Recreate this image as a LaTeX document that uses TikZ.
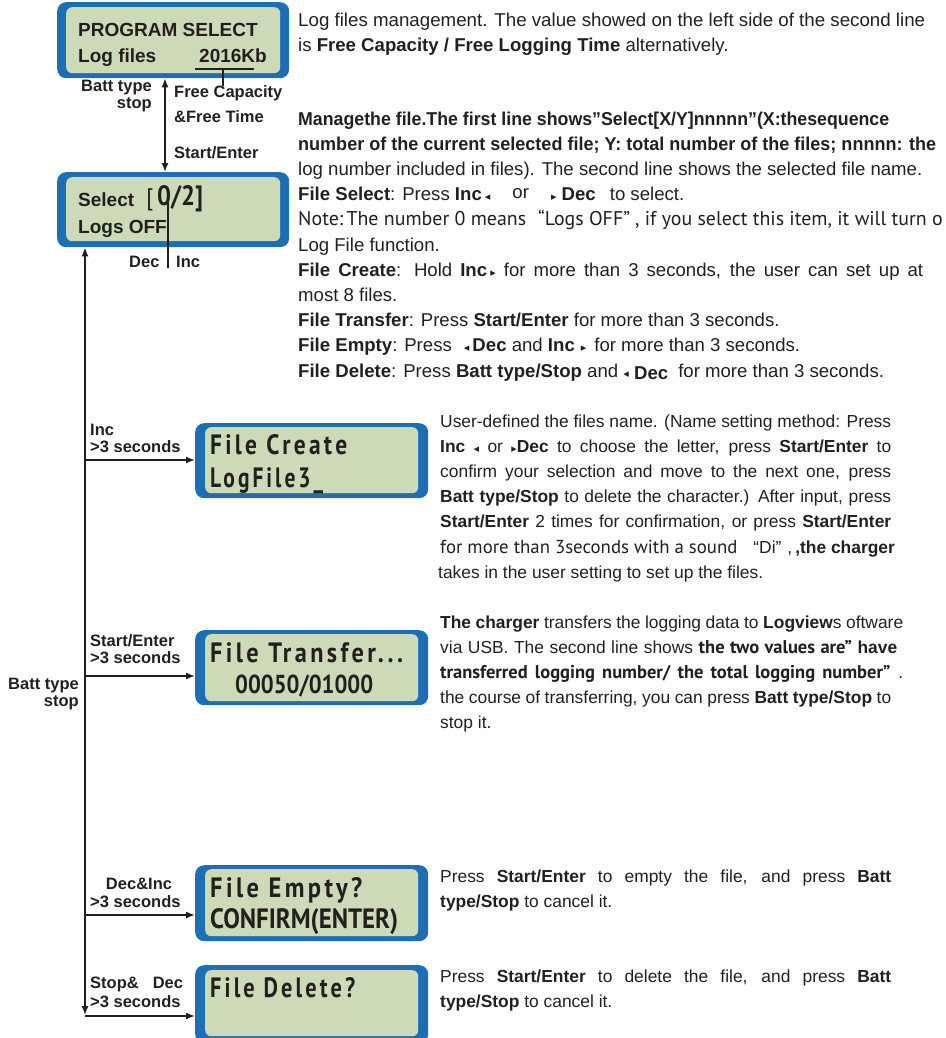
\documentclass[tikz,border=0pt]{standalone}
\usepackage{fontspec}
\usepackage{graphicx}
\setmainfont{Liberation Sans}
\newfontfamily\ptsans{PT Sans}
\newfontfamily\symf{DejaVu Sans}
\newfontfamily\lcdf[LetterSpace=14]{PT Sans}
\newfontfamily\lcdg{PT Sans}
\usetikzlibrary{arrows.meta}
\definecolor{lcdblue}{RGB}{30,110,180}
\definecolor{lcdgreen}{RGB}{205,218,183}
\definecolor{ink}{RGB}{35,31,32}
\newcommand{\tril}{{\symf\fontsize{11}{11}\selectfont ◂}}
\newcommand{\trir}{{\symf\fontsize{11}{11}\selectfont ▸}}
\newcommand{\fitw}[2]{\resizebox{#1}{\height}{#2}}
\newcommand{\just}[2]{\makebox[#1][s]{#2}}
\tikzset{
 lcdout/.style={fill=lcdblue, rounded corners=9pt, inner sep=0pt, anchor=north west, draw=none},
 lcdin/.style={fill=lcdgreen, rounded corners=6pt, inner sep=0pt, anchor=north west, draw=none},
 lcdtxt/.style={anchor=base west, inner sep=0pt, text=ink, font=\lcdf\bfseries\fontsize{28}{28}\selectfont},
 boxtxt/.style={anchor=base west, inner sep=0pt, text=ink, font=\bfseries\fontsize{19}{19}\selectfont},
 lab/.style={inner sep=0pt, text=ink, font=\bfseries\fontsize{16.5}{16.5}\selectfont},
 paraA/.style={anchor=base west, inner sep=0pt, text=ink, font=\fontsize{18.6}{25}\selectfont},
 paraB/.style={anchor=base west, inner sep=0pt, text=ink, font=\fontsize{17.4}{25}\selectfont},
 conn/.style={line width=1.4pt, draw=ink, -{Latex[length=9pt,width=7pt]}},
 dconn/.style={line width=1.4pt, draw=ink, {Latex[length=9pt,width=7pt]}-{Latex[length=9pt,width=7pt]}},
 plain/.style={line width=1.5pt, draw=ink},
}
\begin{document}
\begin{tikzpicture}[x=1pt,y=-1pt]
\useasboundingbox (0,0) rectangle (945,1038);
\clip (0,0) rectangle (945,1038);
% ---------- top LCD: PROGRAM SELECT ----------
\node[lcdout, minimum width=232pt, minimum height=76pt] (b1) at (57,2) {};
\node[lcdin, minimum width=214pt, minimum height=66pt] (b1i) at (66,7) {};
\node[boxtxt] (ps) at (78,37) {PROGRAM SELECT};
\node[boxtxt] (lf) at (78,63) {Log files};
\node[boxtxt] (kb) at (199,63) {2016Kb};
% ---------- second LCD: Select ----------
\node[lcdout, minimum width=232pt, minimum height=75pt] (b2) at (57,172) {};
\node[lcdin, minimum width=214pt, minimum height=64pt] (b2i) at (66,177) {};
\node[boxtxt] (sel) at (78,206) {Select};
\node[lcdtxt, font=\lcdg\fontsize{24}{24}\selectfont] (brk) at (146,205) {[};
\node[lcdtxt] (num) at (157,205) {\resizebox{46pt}{\height}{\lcdg\bfseries 0/2]}};
\node[boxtxt] (loff) at (78,233) {Logs OFF};
% labels between top boxes
\node[lab, anchor=base east] (bt1) at (152,92) {Batt type};
\node[lab, anchor=base east] (st1) at (152,109) {stop};
\node[lab, anchor=base west] (fcap) at (174,98) {Free Capacity};
\node[lab, anchor=base west] (ftime) at (174,123) {\&Free Time};
\node[lab, anchor=base west] (se1) at (174,158) {Start/Enter};
\coordinate (u1) at (195,69);
\coordinate (u2) at (254,69);
\coordinate (um) at (223,69);
\draw[plain] (u1) -- (u2);
\draw[plain] (um) -- (um |- fcap.north);
\coordinate (ax) at (165,0);
\draw[dconn] (b1.south -| ax) -- (b2.north -| ax);
% Dec / Inc pointer
\node[lab, anchor=base west] (dec1) at (129,267) {Dec};
\node[lab, anchor=base west] (inc1) at (176,267) {Inc};
\coordinate (vt) at (168,196);
\coordinate (vb) at (168,268);
\draw[plain] (vt) -- (vb);
% ---------- lower LCDs ----------
\node[lcdout, minimum width=233pt, minimum height=75pt] (fc) at (195,423) {};
\node[lcdin, minimum width=213pt, minimum height=66pt] (fci) at (205,427) {};
\node[lcdtxt] (fct1) at (210,454) {\resizebox{137pt}{\height}{File Create}};
\node[lcdtxt] (fct2) at (210,487) {\resizebox{113pt}{\height}{LogFile3\_}};

\node[lcdout, minimum width=233pt, minimum height=75pt] (ft) at (195,630) {};
\node[lcdin, minimum width=213pt, minimum height=67pt] (fti) at (205,634) {};
\node[lcdtxt] (ftt1) at (210,662) {\resizebox{193pt}{\height}{File Transfer...}};
\node[lcdtxt, font=\lcdg\bfseries\fontsize{26}{26}\selectfont] (ftt2) at (235,693) {\resizebox{138pt}{\height}{00050/01000}};

\node[lcdout, minimum width=233pt, minimum height=76pt] (fe) at (195,865) {};
\node[lcdin, minimum width=213pt, minimum height=67pt] (fei) at (205,869) {};
\node[lcdtxt] (fet1) at (210,897) {\resizebox{152pt}{\height}{File Empty?}};
\node[lcdtxt, font=\lcdg\bfseries\fontsize{28}{28}\selectfont] (fet2) at (210,928) {\resizebox{188pt}{\height}{CONFIRM(ENTER)}};

\node[lcdout, minimum width=233pt, minimum height=78pt] (fd) at (195,965) {};
\node[lcdin, minimum width=213pt, minimum height=66pt] (fdi) at (205,970) {};
\node[lcdtxt] (fdt1) at (210,997) {\resizebox{145pt}{\height}{File Delete?}};
% ---------- left trunk ----------
\coordinate (lx) at (85,0);
\coordinate (botA) at (85,1015);
\draw[dconn] (b2.south -| lx) -- (botA);
\coordinate (j1) at (85,460);
\coordinate (j2) at (85,676);
\coordinate (j3) at (85,915);
\coordinate (j4) at (85,1016);
\draw[conn] (j1) -- (j1 -| fc.west);
\draw[conn] (j2) -- (j2 -| ft.west);
\draw[conn] (j3) -- (j3 -| fe.west);
\draw[conn] (j4) -- (j4 -| fd.west);
\node[lab, anchor=base east] (bt2) at (79,689) {Batt type};
\node[lab, anchor=base east] (st2) at (79,706) {stop};
\node[lab, anchor=base west] (l1a) at (90,435) {Inc};
\node[lab, anchor=base west] (l1b) at (90,452) {>3 seconds};
\node[lab, anchor=base west] (l2a) at (90,646) {Start/Enter};
\node[lab, anchor=base west] (l2b) at (90,663) {>3 seconds};
\node[lab, anchor=base] (l3a) at (139,889) {Dec\&Inc};
\node[lab, anchor=base west] (l3b) at (90,907) {>3 seconds};
\node[lab, anchor=base west] (l4a) at (90,988) {Stop\&\hspace{14pt}Dec};
\node[lab, anchor=base west] (l4b) at (90,1007) {>3 seconds};
% ---------- block 1 ----------
\node[paraA] (t1a) at (298,27) {\fitw{627pt}{Log files management. The value showed on the left side of the second line}};
\node[paraA] (t1b) at (298,52) {is \textbf{Free Capacity / Free Logging Time} alternatively.};
% ---------- block 2 ----------
\node[paraA] (t2a) at (298,125) {\fitw{591pt}{\bfseries Managethe file.The first line shows”Select[X/Y]nnnnn”(X:thesequence}};
\node[paraA] (t2b) at (298,150.2) {\fitw{638pt}{\bfseries number of the current selected file; Y: total number of the files; nnnnn: the}};
\node[paraA] (t2c) at (298,175.4) {log number included in files). The second line shows the selected file name.};
\node[paraA] (t2d) at (298,200.6) {\textbf{File Select}: Press \textbf{Inc}\,\tril\hspace{22pt}\raisebox{2pt}{or}\hspace{22pt}\trir\ \textbf{Dec}\hspace{14pt}to select.};
\node[paraA] (t2e) at (298,225.8) {{\ptsans\fontsize{19.9}{25}\selectfont Note:\,The number 0 means\hspace{12pt}“Logs OFF”\hspace{5pt}, if you select this item, it will turn o}};
\node[paraA] (t2f) at (298,251) {Log File function.};
\node[paraA] (t2g) at (298,276.2) {\just{625pt}{\textbf{File Create}: Hold \textbf{Inc}\,\trir\ for more than 3 seconds, the user can set up at}};
\node[paraA] (t2h) at (298,301.4) {most 8 files.};
\node[paraA] (t2i) at (298,326.6) {\textbf{File Transfer}: Press \textbf{Start/Enter} for more than 3 seconds.};
\node[paraA] (t2j) at (298,351.8) {\textbf{File Empty}: Press\hspace{12pt}\tril\,\textbf{Dec} and \textbf{Inc}\hspace{6pt}\trir\hspace{8pt}for more than 3 seconds.};
\node[paraA] (t2k) at (298,377) {\textbf{File Delete}: Press \textbf{Batt type/Stop} and \tril\ \raisebox{-2pt}{\textbf{Dec}}\hspace{10pt}for more than 3 seconds.};
% ---------- block 3 ----------
\node[paraB] (t3a) at (440,427) {\just{451pt}{User-defined the files name. (Name setting method: Press}};
\node[paraB] (t3b) at (440,452.2) {\just{451pt}{\textbf{Inc} \tril\ or \trir\textbf{Dec} to choose the letter, press \textbf{Start/Enter} to}};
\node[paraB] (t3c) at (440,477.4) {\just{451pt}{confirm your selection and move to the next one, press}};
\node[paraB] (t3d) at (440,502.6) {\just{451pt}{\textbf{Batt type/Stop} to delete the character.) After input, press}};
\node[paraB] (t3e) at (440,527.8) {\just{451pt}{\textbf{Start/Enter} 2 times for confirmation, or press \textbf{Start/Enter}}};
\node[paraB] (t3f) at (440,553) {{\ptsans\fontsize{18.8}{25}\selectfont for more than 3seconds with a sound}\hspace{16pt}“Di”\hspace{6pt},\hspace{3pt}\textbf{,the charger}};
\node[paraB] (t3g) at (438,578.2) {takes in the user setting to set up the files.};
% ---------- block 4 ----------
\node[paraB] (t4a) at (440,628) {\just{463pt}{\textbf{The charger} transfers the logging data to \textbf{Logview}s oftware}};
\node[paraB] (t4b) at (440,653.2) {\just{457pt}{via USB. The second line shows {\ptsans\bfseries\fontsize{18.5}{25}\selectfont the two values are”} \textbf{have}}};
\node[paraB] (t4c) at (440,678.4) {\just{463pt}{{\ptsans\bfseries\fontsize{18.5}{25}\selectfont transferred logging number/ the total logging number”}\hspace{8pt}.}};
\node[paraB] (t4d) at (440,703.6) {\just{451pt}{the course of transferring, you can press \textbf{Batt type/Stop} to}};
\node[paraB] (t4e) at (440,728.8) {stop it.};
% ---------- block 5 ----------
\node[paraB] (t5a) at (440,882) {\just{451pt}{Press \textbf{Start/Enter} to empty the file, and press \textbf{Batt}}};
\node[paraB] (t5b) at (440,907) {\textbf{type/Stop} to cancel it.};
% ---------- block 6 ----------
\node[paraB] (t6a) at (440,982) {\just{451pt}{Press \textbf{Start/Enter} to delete the file, and press \textbf{Batt}}};
\node[paraB] (t6b) at (440,1007) {\textbf{type/Stop} to cancel it.};
\end{tikzpicture}
\end{document}
